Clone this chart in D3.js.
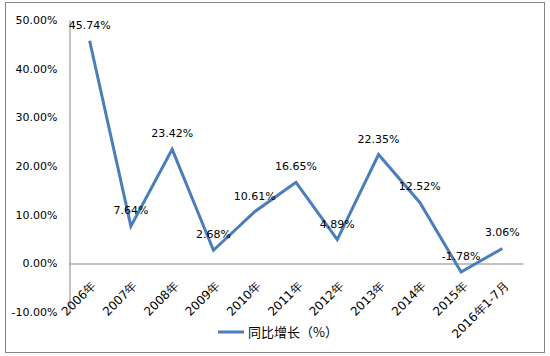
<!DOCTYPE html>
<html><head><meta charset="utf-8">
<script src="https://cdn.jsdelivr.net/npm/d3@7"></script>
<style>body{margin:0;background:#fff;} svg{display:block;}</style>
</head><body>
<svg id="c" width="550" height="356"></svg>
<script>
const categories = ["2006年","2007年","2008年","2009年","2010年","2011年","2012年","2013年","2014年","2015年","2016年1-7月"];
const values = [45.74, 7.64, 23.42, 2.68, 10.61, 16.65, 4.89, 22.35, 12.52, -1.78, 3.06];
const yTicks = [-10, 0, 10, 20, 30, 40, 50];
const seriesName = "同比增长（%）";

const svg = d3.select("#c");
const font = "'DejaVu Sans', Verdana, sans-serif";

svg.append("rect").attr("x",5.5).attr("y",2.5).attr("width",539).attr("height",350)
  .attr("fill","#fff").attr("stroke","#868686").attr("stroke-width",1);

const x = d3.scaleBand().domain(categories).range([69, 523]);
const y = d3.scaleLinear().domain([-10, 50]).range([312, 20]);

// y axis
const yAxis = svg.append("g").attr("transform","translate(69.5,0)")
  .call(d3.axisLeft(y).tickValues(yTicks).tickSize(0).tickPadding(12)
    .tickFormat(d => d.toFixed(2) + "%"));
yAxis.select(".domain").attr("stroke","#868686");
yAxis.selectAll("text").attr("font-family",font).attr("font-size","11px").attr("fill","#000");

// x axis at zero
const xAxis = svg.append("g").attr("transform",`translate(0,${Math.round(y(0))+0.5})`)
  .call(d3.axisBottom(x).tickSize(0).tickPadding(0));
xAxis.select(".domain").attr("stroke","#868686");
xAxis.selectAll("text")
  .attr("font-family",font).attr("font-size","12px").attr("fill","#000")
  .attr("text-anchor","end")
  .attr("dy",null).attr("y",null)
  .attr("transform","translate(7,23) rotate(-45)");

// line
const line = d3.line().x((d,i)=>x(categories[i])+x.bandwidth()/2).y(d=>y(d));
svg.append("path").datum(values).attr("d",line)
  .attr("fill","none").attr("stroke","#4a7ebb").attr("stroke-width",3)
  .attr("stroke-linejoin","miter");

// data labels
svg.selectAll("text.lbl").data(values).enter().append("text").attr("class","lbl")
  .attr("x",(d,i)=>x(categories[i])+x.bandwidth()/2)
  .attr("y",d=>y(d)-12)
  .attr("text-anchor","middle")
  .attr("font-family",font).attr("font-size","11px").attr("fill","#000")
  .text(d=>d.toFixed(2)+"%");

// legend
const lg = svg.append("g").attr("transform","translate(218,332)");
lg.append("line").attr("x1",0).attr("x2",26).attr("y1",0).attr("y2",0)
  .attr("stroke","#4a7ebb").attr("stroke-width",3);
lg.append("text").attr("x",30).attr("y",5).attr("font-family","'Noto Sans CJK SC', sans-serif")
  .attr("font-size","13px").attr("fill","#000").text(seriesName);
</script>
</body></html>
